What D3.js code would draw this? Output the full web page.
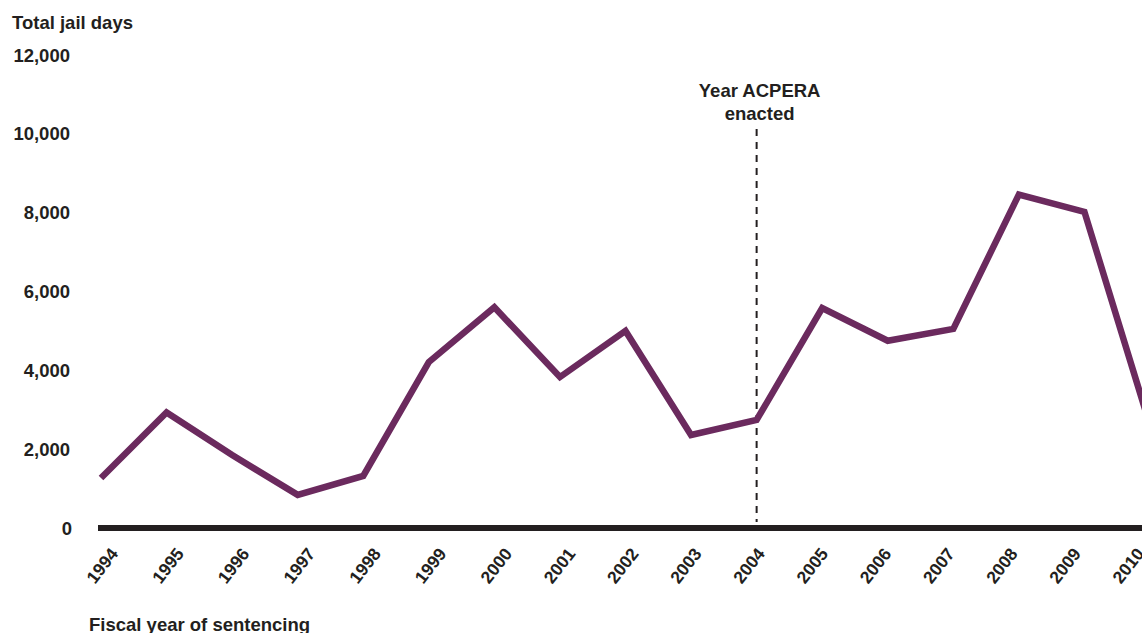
<!DOCTYPE html>
<html><head><meta charset="utf-8">
<script src="https://cdn.jsdelivr.net/npm/d3@7"></script>
<style>
body{margin:0;background:#fff;}
svg{display:block;}
text{font-family:"Liberation Sans",Arial,Helvetica,sans-serif;font-weight:bold;fill:#231f20;}
</style></head>
<body>
<svg id="chart" width="1142" height="633"></svg>
<script>
const years = [1994,1995,1996,1997,1998,1999,2000,2001,2002,2003,2004,2005,2006,2007,2008,2009,2010];
const jailDays = [1270,2930,1850,840,1320,4210,5600,3830,5000,2360,2740,5580,4750,5050,8460,8020,2600];
const yTicks = [0,2000,4000,6000,8000,10000,12000];
const yTitle = "Total jail days";
const xTitle = "Fiscal year of sentencing";
const annotationYear = 2004;
const annotationLines = ["Year ACPERA","enacted"];

const svg = d3.select("#chart");
const x = d3.scaleLinear().domain([1994,2010]).range([101,1150]);
// tick labels in the original are spaced slightly differently from the data points
const xLabel = d3.scaleLinear().domain([1994,2000,2010]).range([119,513,1145]);
const y = d3.scaleLinear().domain([0,12000]).range([528,55]);
const fmt = d3.format(",");

// y tick labels
svg.append("g").selectAll("text").data(yTicks).join("text")
  .attr("x", d => d===0 ? 72 : 70)
  .attr("y", d => y(d))
  .attr("dy","0.36em")
  .attr("text-anchor","end")
  .attr("font-size",18.5)
  .text(d => fmt(d));

svg.append("text").attr("x",12).attr("y",29).attr("font-size",18.5).text(yTitle);

// x axis line
svg.append("line").attr("x1",98).attr("x2",1142)
  .attr("y1",y(0)).attr("y2",y(0))
  .attr("stroke","#231f20").attr("stroke-width",6);

// x tick labels
svg.append("g").selectAll("text").data(years).join("text")
  .attr("transform", d => `translate(${xLabel(d)},${554}) rotate(-52)`)
  .attr("text-anchor","end")
  .attr("font-size",17.5)
  .text(d => d);

svg.append("text").attr("x",89).attr("y",631).attr("font-size",18.5).text(xTitle);

// annotation
svg.append("line").attr("x1",x(annotationYear)).attr("x2",x(annotationYear))
  .attr("y1",129).attr("y2",522)
  .attr("stroke","#231f20").attr("stroke-width",2).attr("stroke-dasharray","7,6");
svg.append("g").selectAll("text").data(annotationLines).join("text")
  .attr("x", x(annotationYear)+3)
  .attr("y",(d,i)=>97+i*23)
  .attr("text-anchor","middle")
  .attr("font-size",18.5)
  .text(d=>d);

// data line
const line = d3.line().x((d,i)=>x(years[i])).y(d=>y(d));
svg.append("path").datum(jailDays)
  .attr("d", line)
  .attr("fill","none")
  .attr("stroke","#6b2a5e")
  .attr("stroke-width",6.5)
  .attr("stroke-linejoin","miter");
</script>
</body></html>
